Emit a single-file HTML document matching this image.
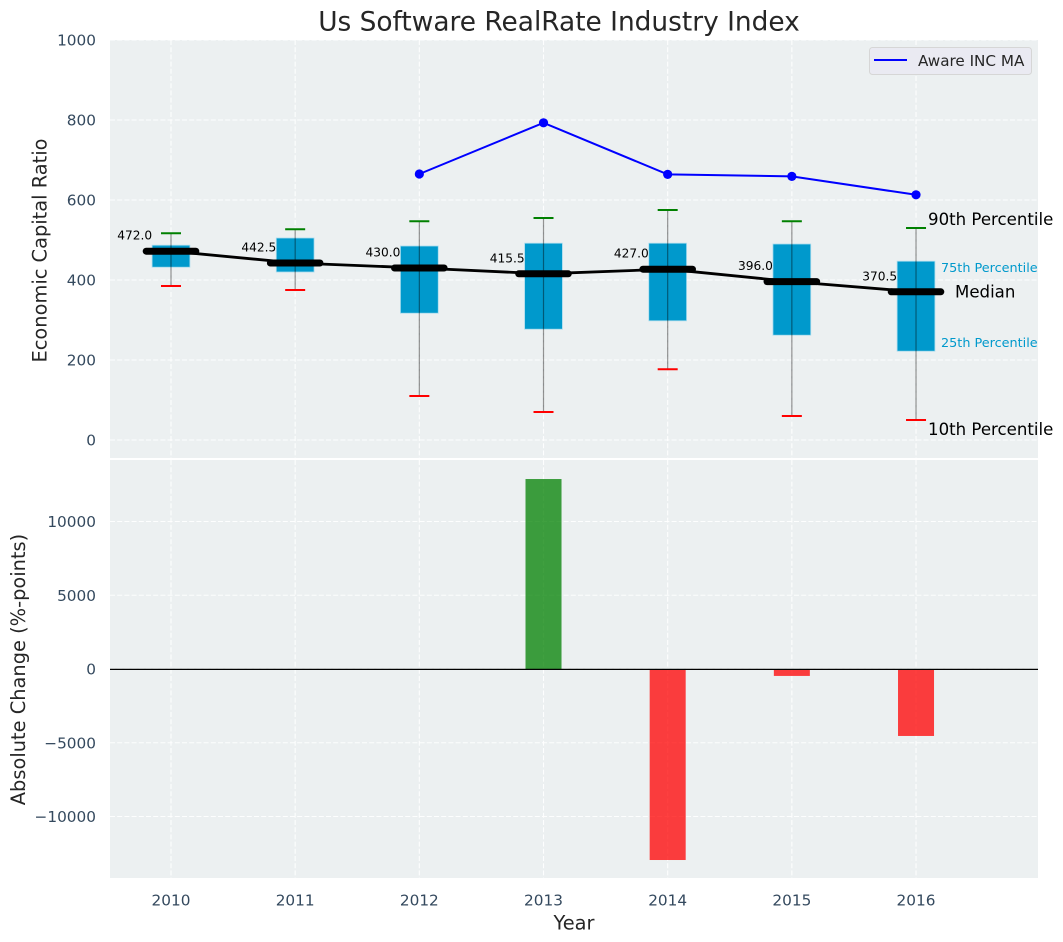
<!DOCTYPE html>
<html lang="en">
<head>
<meta charset="utf-8">
<title>Us Software RealRate Industry Index</title>
<style>
html,body{margin:0;padding:0;background:#fff;width:1063px;height:942px;overflow:hidden}
svg{display:block}
text{font-family:"DejaVu Sans","Liberation Sans",sans-serif}
</style>
</head>
<body>
<svg id="chart" xmlns="http://www.w3.org/2000/svg" width="1063" height="942" viewBox="0 0 1063 942">
  <rect x="0" y="0" width="1063" height="942" fill="#ffffff"/>
  <rect x="110" y="40" width="928" height="418" fill="#ecf0f1"/>
  <rect x="110" y="460" width="928" height="418" fill="#ecf0f1"/>
  <g id="gridLayer"></g>
  <g id="barLayer"></g>
  <g id="boxLayer"></g>
  <g id="lineLayer"></g>
  <g id="textLayer"></g>
  <g id="tickLayer"></g>
  <text x="559" y="30.5" text-anchor="middle" font-size="26.4" fill="#262626">Us Software RealRate Industry Index</text>
  <text transform="translate(46.5 250.5) rotate(-90)" text-anchor="middle" font-size="19.4" fill="#262626">Economic Capital Ratio</text>
  <text transform="translate(25 669.5) rotate(-90)" text-anchor="middle" font-size="19.4" fill="#262626">Absolute Change (%-points)</text>
  <text x="574" y="929.5" text-anchor="middle" font-size="19.4" fill="#262626">Year</text>
  <g>
    <rect x="869.5" y="47.5" width="162" height="27" rx="3" fill="#eaeaf2" stroke="#d6d6d6" stroke-width="1"/>
    <line x1="874" y1="60" x2="907" y2="60" stroke="#0000ff" stroke-width="2"/>
    <text x="918" y="66" font-size="15.2" fill="#262626">Aware INC MA</text>
  </g>
</svg>
<script>
// ---- chart data ----
const years = [2010, 2011, 2012, 2013, 2014, 2015, 2016];
const p90 = [517, 527, 547, 555, 575, 547, 530];
const p75 = [487, 505, 485, 492, 492, 490, 447];
const medians = [472.0, 442.5, 430.0, 415.5, 427.0, 396.0, 370.5];
const p25 = [432, 420, 317, 277, 298, 262, 222];
const p10 = [385, 375, 110, 70, 177, 60, 50];
const maYears = [2012, 2013, 2014, 2015, 2016];
const maValues = [665, 793, 664, 659, 613];
const changeYears = [2013, 2014, 2015, 2016];
const changeValues = [12880, -12950, -470, -4540];
const topTicks = [0, 200, 400, 600, 800, 1000];
const bottomTicks = [-10000, -5000, 0, 5000, 10000];

// ---- axis functions ----
const X = v => 171 + (v - 2010) * 124.17;
const YT = v => 440 - v * 0.4;
const YB = v => 669 - v * 0.01475;

const NS = 'http://www.w3.org/2000/svg';
function mk(parent, tag, attrs, txt) {
  const el = document.createElementNS(NS, tag);
  for (const k in attrs) el.setAttribute(k, attrs[k]);
  if (txt !== undefined) el.textContent = txt;
  document.getElementById(parent).appendChild(el);
  return el;
}
const gridAttrs = {stroke: '#ffffff', 'stroke-width': 1.1, 'stroke-dasharray': '5,2.2', 'stroke-opacity': 0.9};
let el;

// grid
years.forEach(y => {
  el = mk('gridLayer', 'line', {x1: X(y), x2: X(y), y1: 40, y2: 458, ...gridAttrs});
  
  
  el = mk('gridLayer', 'line', {x1: X(y), x2: X(y), y1: 460, y2: 878, ...gridAttrs});
  
  
});
topTicks.forEach(t => {
  el = mk('gridLayer', 'line', {x1: 110, x2: 1038, y1: YT(t), y2: YT(t), ...gridAttrs});
  
  
  el = mk('tickLayer', 'text', {x: 96, y: YT(t) + 5.5, 'text-anchor': 'end', 'font-size': 15.3, fill: '#34495e'}, String(t));
  
  
});
bottomTicks.forEach(t => {
  el = mk('gridLayer', 'line', {x1: 110, x2: 1038, y1: YB(t), y2: YB(t), ...gridAttrs});
  
  
  el = mk('tickLayer', 'text', {x: 96, y: YB(t) + 5.5, 'text-anchor': 'end', 'font-size': 15.3, fill: '#34495e'}, String(t).replace('-', '\u2212'));
  
  
});
years.forEach(y => {
  el = mk('tickLayer', 'text', {x: X(y), y: 905.5, 'text-anchor': 'middle', 'font-size': 15.3, fill: '#34495e'}, String(y));
  
  
});

// change bars
changeYears.forEach((y, i) => {
  const v = changeValues[i];
  el = mk('barLayer', 'rect', {
    x: X(y - 0.145), width: 0.29 * 124.17,
    y: Math.min(YB(v), YB(0)), height: Math.abs(YB(v) - YB(0)),
    fill: v >= 0 ? '#008000' : '#ff0000', 'fill-opacity': 0.75
  });
  
  
});
el = mk('barLayer', 'line', {x1: 110, x2: 1038, y1: YB(0) + 0.4, y2: YB(0) + 0.4, stroke: '#000000', 'stroke-width': 1.2});



// boxes, whiskers, caps
years.forEach((y, i) => {
  el = mk('boxLayer', 'rect', {
    x: X(y) - 18.9, width: 37.8, y: YT(p75[i]), height: YT(p25[i]) - YT(p75[i]),
    fill: '#0099cc', stroke: '#a9dcee', 'stroke-width': 0.8
  });
  
  
  el = mk('boxLayer', 'line', {x1: X(y), x2: X(y), y1: YT(p90[i]), y2: YT(p10[i]), stroke: '#000000', 'stroke-opacity': 0.42, 'stroke-width': 1.2});
  
  
  el = mk('boxLayer', 'line', {x1: X(y) - 10, x2: X(y) + 10, y1: YT(p90[i]), y2: YT(p90[i]), stroke: '#008000', 'stroke-width': 2});
  
  
  el = mk('boxLayer', 'line', {x1: X(y) - 10, x2: X(y) + 10, y1: YT(p10[i]), y2: YT(p10[i]), stroke: '#ff0000', 'stroke-width': 2});
  
  
});

// median trend and moving average
el = mk('lineLayer', 'polyline', {points: years.map((y, i) => X(y) + ',' + YT(medians[i])).join(' '), fill: 'none', stroke: '#000000', 'stroke-width': 2.8});


years.forEach((y, i) => {
  el = mk('lineLayer', 'line', {x1: X(y) - 24.8, x2: X(y) + 24.8, y1: YT(medians[i]), y2: YT(medians[i]), stroke: '#000000', 'stroke-width': 7, 'stroke-linecap': 'round'});
  
  
  el = mk('textLayer', 'text', {x: X(y) - 18.9, y: YT(medians[i]) - 11.5, 'text-anchor': 'end', 'font-size': 12.2, fill: '#000000'}, medians[i].toFixed(1));
  
  
});
el = mk('lineLayer', 'polyline', {points: maYears.map((y, i) => X(y) + ',' + YT(maValues[i])).join(' '), fill: 'none', stroke: '#0000ff', 'stroke-width': 2});


maYears.forEach((y, i) => {
  el = mk('lineLayer', 'circle', {cx: X(y), cy: YT(maValues[i]), r: 4.6, fill: '#0000ff'});
  
  
});

// percentile annotations on the last year
const last = years.length - 1;
const lastX = X(years[last]);
el = mk('textLayer', 'text', {x: lastX + 12, y: YT(p90[last]) - 3, 'font-size': 16.6, fill: '#000000'}, '90th Percentile');


el = mk('textLayer', 'text', {x: lastX + 12, y: YT(p10[last]) + 15, 'font-size': 16.6, fill: '#000000'}, '10th Percentile');


el = mk('textLayer', 'text', {x: lastX + 25, y: YT(p75[last]) + 11, 'font-size': 12.8, fill: '#0099cc'}, '75th Percentile');


el = mk('textLayer', 'text', {x: lastX + 25, y: YT(p25[last]) - 4, 'font-size': 12.8, fill: '#0099cc'}, '25th Percentile');


el = mk('textLayer', 'text', {x: lastX + 39, y: YT(medians[last]) + 5.5, 'font-size': 16.6, fill: '#000000'}, 'Median');


</script>
</body>
</html>
